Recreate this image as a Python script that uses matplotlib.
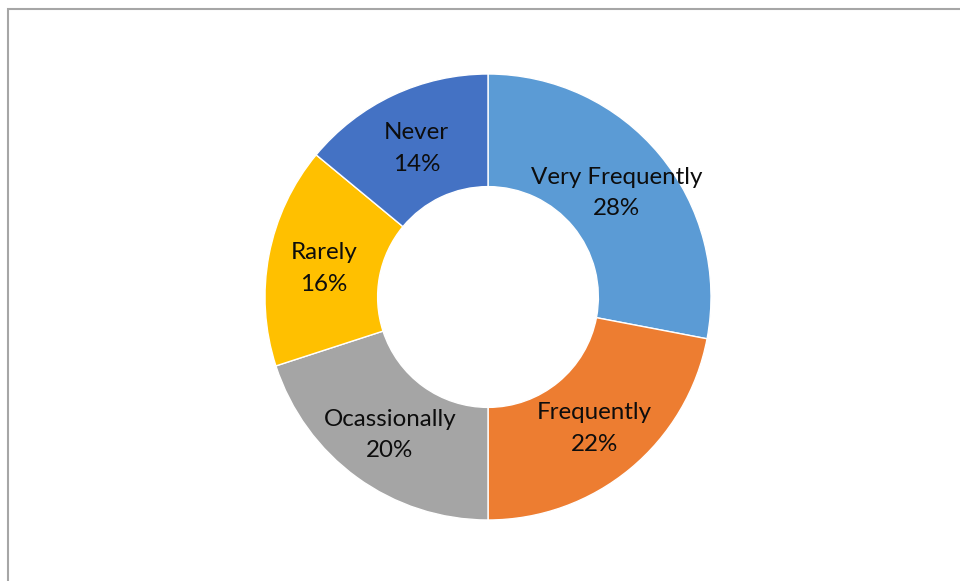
import numpy as np
import matplotlib
matplotlib.use("Agg")
import matplotlib.pyplot as plt
from matplotlib.patches import Rectangle

categories = ["Very Frequently", "Frequently", "Ocassionally", "Rarely", "Never"]
values = [28, 22, 20, 16, 14]
colors = ["#5B9BD5", "#ED7D31", "#A5A5A5", "#FFC000", "#4472C4"]

W, H = 960, 581
fig = plt.figure(figsize=(W / 100, H / 100), dpi=100)

# frame (only top and left edges visible)
fig.patches.append(Rectangle((8 / W, -0.2), 1.2, (H - 9) / H + 0.2, transform=fig.transFigure,
                             fill=False, edgecolor="#A6A6A6", linewidth=1.5))

cx, cy, R = 488, 297, 223
ax = fig.add_axes([(cx - R) / W, (H - cy - R) / H, 2 * R / W, 2 * R / H])
wedges, _ = ax.pie(values, colors=colors, startangle=90, counterclock=False,
                   radius=1.0, wedgeprops=dict(width=0.505, edgecolor="white", linewidth=1.0))
total = sum(values)
for w, cat, v in zip(wedges, categories, values):
    ang = np.deg2rad((w.theta1 + w.theta2) / 2)
    r = 0.75
    ax.text(r * np.cos(ang), r * np.sin(ang) - 0.012, f"{cat}\n{round(100 * v / total)}%",
            ha="center", va="center", fontsize=17.4, family=["Lato", "DejaVu Sans"],
            color="#0D0D0D", linespacing=1.62)
ax.set_xlim(-1, 1)
ax.set_ylim(-1, 1)
ax.set_aspect("equal")
ax.axis("off")

fig.savefig("out.png", dpi=100)
